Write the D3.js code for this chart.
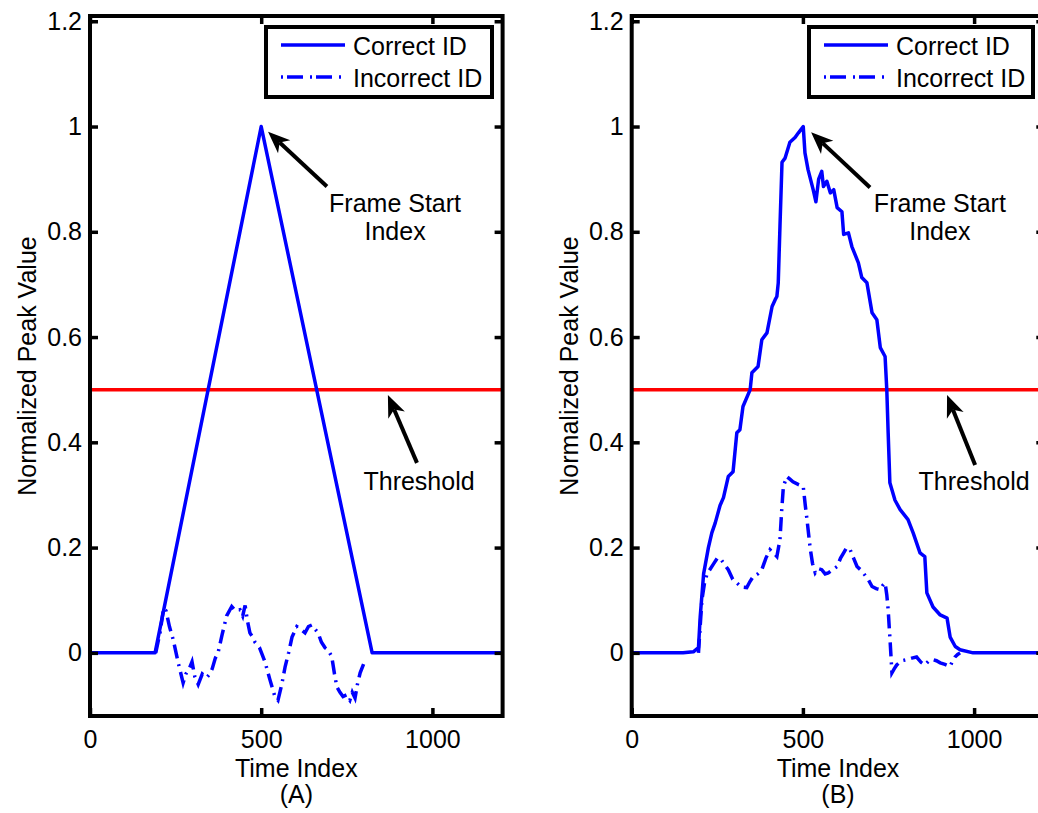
<!DOCTYPE html>
<html>
<head>
<meta charset="utf-8">
<script src="https://cdnjs.cloudflare.com/ajax/libs/d3/7.8.5/d3.min.js"></script>
<style>
body { margin: 0; background: #fff; }
text { font-family: "Liberation Sans", Arial, Helvetica, sans-serif; fill: #000; }
</style>
</head>
<body>
<div id="chart"></div>
<script>
// axis ticks
var xTicks = [0, 500, 1000];
var yTicks = [0, 0.2, 0.4, 0.6, 0.8, 1, 1.2];
var threshold = 0.5;

// panel A - correct ID (triangle)
var correctA = [[0,0],[190,0],[500,1],[824,0],[1205,0]];

// panel A - incorrect ID
var incorrectA = [[192,0],[205,0.04],[215,0.085],[222,0.08],[232,0.05],[243,0.025],[258,-0.02],[272,-0.057],
  [280,-0.04],[290,-0.03],[298,-0.017],[306,-0.045],[316,-0.06],[328,-0.04],[341,-0.047],[350,-0.04],
  [357,-0.03],[366,-0.01],[374,0.0],[386,0.035],[399,0.07],[414,0.088],[425,0.08],[438,0.082],[446,0.07],
  [453,0.09],[460,0.06],[467,0.038],[475,0.03],[482,0.02],[495,0.01],[511,-0.017],[525,-0.05],[540,-0.083],
  [549,-0.09],[560,-0.06],[570,-0.026],[580,0.0],[590,0.03],[604,0.05],[615,0.045],[628,0.038],[638,0.05],
  [648,0.053],[657,0.045],[666,0.038],[676,0.02],[686,0.01],[696,0.005],[706,-0.007],[714,-0.04],[721,-0.065],
  [730,-0.075],[739,-0.083],[749,-0.08],[759,-0.09],[766,-0.075],[774,-0.086],[781,-0.06],[789,-0.038],
  [800,-0.02],[808,-0.013]];

// panel B - correct ID
var correctB = [[0,0],[150,0],[180,0.002],[195,0.01],[200,0.068],[210,0.15],[224,0.2],[234,0.228],[244,0.247],
  [258,0.28],[268,0.295],[282,0.335],[296,0.344],[307,0.418],[316,0.424],[325,0.468],[346,0.5],[351,0.532],
  [369,0.544],[380,0.595],[395,0.608],[410,0.658],[419,0.671],[424,0.677],[428,0.703],[433,0.81],[439,0.932],
  [448,0.94],[462,0.97],[477,0.979],[487,0.988],[501,1.0],[506,0.95],[515,0.918],[530,0.88],[538,0.857],
  [546,0.9],[555,0.915],[560,0.886],[570,0.896],[580,0.874],[590,0.88],[600,0.846],[614,0.838],[619,0.795],
  [633,0.798],[643,0.772],[662,0.741],[672,0.713],[687,0.703],[702,0.646],[716,0.633],[726,0.58],[740,0.563],
  [745,0.5],[749,0.418],[754,0.323],[769,0.29],[784,0.272],[807,0.253],[822,0.228],[842,0.19],[856,0.183],
  [862,0.114],[880,0.087],[901,0.072],[921,0.066],[930,0.03],[945,0.012],[959,0.006],[997,0.0],[1205,0]];

// panel B - incorrect ID
var incorrectB = [[195,0],[200,0.05],[205,0.1],[212,0.13],[220,0.15],[228,0.158],[240,0.17],[250,0.18],
  [258,0.18],[268,0.171],[282,0.158],[295,0.14],[307,0.133],[320,0.125],[336,0.124],[345,0.135],[355,0.145],
  [368,0.15],[380,0.158],[392,0.18],[404,0.196],[414,0.19],[424,0.183],[433,0.215],[438,0.27],[443,0.316],
  [453,0.335],[462,0.33],[471,0.325],[486,0.32],[501,0.316],[507,0.28],[512,0.253],[521,0.2],[528,0.17],
  [536,0.152],[545,0.16],[555,0.158],[565,0.15],[574,0.152],[587,0.158],[600,0.164],[610,0.18],[619,0.19],
  [628,0.2],[638,0.196],[648,0.18],[658,0.164],[668,0.158],[676,0.152],[690,0.14],[702,0.126],[714,0.122],
  [726,0.12],[733,0.128],[740,0.133],[745,0.11],[749,0.082],[752,0.05],[755,0.019],[760,-0.038],[767,-0.03],
  [774,-0.023],[788,-0.015],[803,-0.013],[818,-0.01],[832,-0.008],[845,-0.018],[856,-0.023],[868,-0.015],
  [880,-0.013],[890,-0.015],[901,-0.019],[915,-0.022],[930,-0.026],[937,-0.015],[944,-0.008],[952,-0.003],[959,0]];

var legendLabels = ["Correct ID", "Incorrect ID"];
var panelLabels = ["(A)", "(B)"];

// annotations (data coords): arrow tail -> tip, text position
var frameArrowA = {tail: [692, 0.886], tip: [520, 0.99], text: [891, 0.838]};
var threshArrowA = {tail: [955, 0.361], tip: [870, 0.49], text: [961, 0.31]};
var frameArrowB = {tail: [696, 0.884], tip: [524, 0.989], text: [900, 0.838]};
var threshArrowB = {tail: [1003, 0.357], tip: [921, 0.49], text: [1000, 0.31]};

var W = 1038, H = 813;
var axTop = 16, axBottom = 716;
var axW = 412.6;
var fs = 25;

var svg = d3.select("#chart").append("svg")
    .attr("width", W).attr("height", H);

var panels = [
  {name: "A", left: 90, correct: correctA, incorrect: incorrectA, frame: frameArrowA, thresh: threshArrowA, label: panelLabels[0], legX: 266, legW: 226},
  {name: "B", left: 631.7, correct: correctB, incorrect: incorrectB, frame: frameArrowB, thresh: threshArrowB, label: panelLabels[1], legX: 809, legW: 224}
];

var yFmt = function(d){ return d === 0 ? "0" : String(+d.toFixed(1)); };

panels.forEach(function(p){
    var x = d3.scaleLinear().domain([0, 1205]).range([p.left, p.left + axW]);
    var y = d3.scaleLinear().domain([-0.12, 1.21]).range([axBottom, axTop]);

    var g = svg.append("g");

    // clip for data
    g.append("clipPath").attr("id", "clip" + p.name)
      .append("rect").attr("x", p.left).attr("y", axTop).attr("width", axW).attr("height", axBottom - axTop);

    var plot = g.append("g").attr("clip-path", "url(#clip" + p.name + ")");

    var line = d3.line().x(function(d){ return x(d[0]); }).y(function(d){ return y(d[1]); });

    // threshold
    plot.append("line")
      .attr("x1", x(0)).attr("x2", x(1205))
      .attr("y1", y(threshold)).attr("y2", y(threshold))
      .attr("stroke", "#ff0000").attr("stroke-width", 3.5);

    plot.append("path").datum(p.correct)
      .attr("d", line).attr("fill", "none")
      .attr("stroke", "#0000ff").attr("stroke-width", 3.5)
      .attr("stroke-linejoin", "round");

    plot.append("path").datum(p.incorrect)
      .attr("d", line).attr("fill", "none")
      .attr("stroke", "#0000ff").attr("stroke-width", 3.5)
      .attr("stroke-dasharray", "14,6,2,6");

    // axes (ticks inward on all four sides)
    var axL = d3.axisLeft(y).tickValues(yTicks).tickFormat(yFmt).tickSizeInner(-8).tickSizeOuter(0).tickPadding(8);
    var axR = d3.axisRight(y).tickValues(yTicks).tickFormat("").tickSizeInner(-8).tickSizeOuter(0);
    var axB = d3.axisBottom(x).tickValues(xTicks).tickFormat(d3.format("d")).tickSizeInner(-8).tickSizeOuter(0).tickPadding(14);
    var axT = d3.axisTop(x).tickValues(xTicks).tickFormat("").tickSizeInner(-8).tickSizeOuter(0);

    [[axL, "translate(" + p.left + ",0)"],
     [axR, "translate(" + (p.left + axW) + ",0)"],
     [axB, "translate(0," + axBottom + ")"],
     [axT, "translate(0," + axTop + ")"]].forEach(function(a){
        var ag = g.append("g").attr("transform", a[1]).call(a[0]);
        ag.select(".domain").remove();
        ag.selectAll(".tick line").attr("stroke", "#000").attr("stroke-width", 3.5);
        ag.selectAll(".tick text").attr("font-size", fs).attr("fill", "#000")
          .style("font-family", '"Liberation Sans", Arial, sans-serif');
    });

    // box
    g.append("rect")
      .attr("x", p.left).attr("y", axTop).attr("width", axW).attr("height", axBottom - axTop)
      .attr("fill", "none").attr("stroke", "#000").attr("stroke-width", 4);

    // axis labels
    g.append("text")
      .attr("x", p.left + axW / 2).attr("y", 777)
      .attr("text-anchor", "middle").attr("font-size", fs)
      .text("Time Index");
    g.append("text")
      .attr("x", p.left + axW / 2).attr("y", 803)
      .attr("text-anchor", "middle").attr("font-size", fs)
      .text(p.label);
    g.append("text")
      .attr("transform", "translate(" + (p.left - 54) + "," + ((axTop + axBottom) / 2) + ") rotate(-90)")
      .attr("text-anchor", "middle").attr("font-size", fs)
      .text("Normalized Peak Value");

    // annotation arrows
    [p.frame, p.thresh].forEach(function(a){
        var tx = x(a.tip[0]), ty = y(a.tip[1]);
        var sx = x(a.tail[0]), sy = y(a.tail[1]);
        var dx = sx - tx, dy = sy - ty, len = Math.sqrt(dx*dx + dy*dy);
        var ux = dx / len, uy = dy / len, nx = -uy, ny = ux;
        var L = 22, hw = 9;
        var bx = tx + ux * L, by = ty + uy * L;
        var mx = tx + ux * L * 0.72, my = ty + uy * L * 0.72;
        g.append("line")
          .attr("x1", sx).attr("y1", sy).attr("x2", mx).attr("y2", my)
          .attr("stroke", "#000").attr("stroke-width", 4);
        g.append("path")
          .attr("d", "M" + tx + "," + ty + "L" + (bx + nx*hw) + "," + (by + ny*hw) +
                "L" + mx + "," + my + "L" + (bx - nx*hw) + "," + (by - ny*hw) + "Z")
          .attr("fill", "#000");
    });

    g.append("text")
      .attr("x", x(p.frame.text[0])).attr("y", y(p.frame.text[1]))
      .attr("text-anchor", "middle").attr("font-size", fs)
      .text("Frame Start");
    g.append("text")
      .attr("x", x(p.frame.text[0])).attr("y", y(p.frame.text[1]) + 28)
      .attr("text-anchor", "middle").attr("font-size", fs)
      .text("Index");
    g.append("text")
      .attr("x", x(p.thresh.text[0])).attr("y", y(p.thresh.text[1]))
      .attr("text-anchor", "middle").attr("font-size", fs)
      .text("Threshold");

    // legend
    var lg = g.append("g").attr("transform", "translate(" + p.legX + ",27)");
    lg.append("rect").attr("width", p.legW).attr("height", 70)
      .attr("fill", "#fff").attr("stroke", "#000").attr("stroke-width", 4);
    legendLabels.forEach(function(lab, i){
        var ly = 18 + i * 32;
        lg.append("line").attr("x1", 15).attr("x2", 79).attr("y1", ly).attr("y2", ly)
          .attr("stroke", "#0000ff").attr("stroke-width", 3.5)
          .attr("stroke-dasharray", i === 1 ? "2,4,16,7,2,4,16,7" : null);
        lg.append("text").attr("x", 87).attr("y", ly + 10)
          .attr("font-size", fs).text(lab);
    });
});
</script>
</body>
</html>
